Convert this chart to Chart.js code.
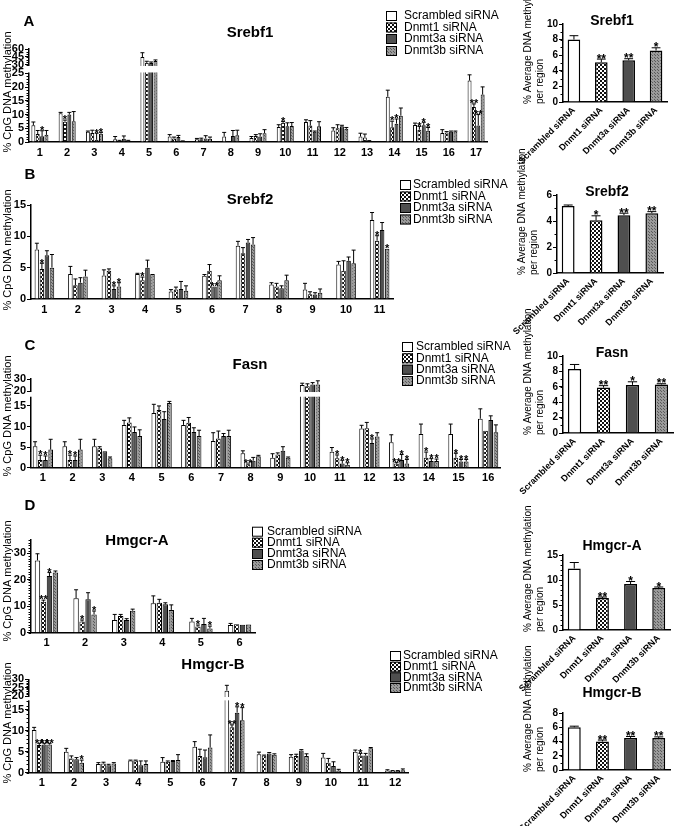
<!DOCTYPE html>
<html><head><meta charset="utf-8">
<script src="https://cdn.jsdelivr.net/npm/chart.js@4"></script>
<style>
html,body{margin:0;padding:0;background:#fff;}
#wrap{position:relative;width:685px;height:826px;overflow:hidden;background:#fff}
#wrap canvas{position:absolute;left:0;top:0}
</style></head><body><div id="wrap"></div>
<script>
// ---------------- DATA ----------------
const seriesNames = ['Scrambled siRNA','Dnmt1 siRNA','Dnmt3a siRNA','Dnmt3b siRNA'];

// Srebf1 (A)
const srebf1Regions = ['1','2','3','4','5','6','7','8','9','10','11','12','13','14','15','16','17'];
const srebf1Scr    = [6.1,10.5,3.7,1.0,45,2.0,1.0,2.0,1.5,5.5,7.3,4.2,2.0,16.5,6.2,3.3,22.4];
const srebf1ScrErr = [1.2,0.3,0.3,1.0,8,0.7,0.3,1.5,0.5,0.8,0.8,1.0,1.2,2.4,0.7,1.2,2.1];
const srebf1D1     = [2.9,7.4,3.3,0.3,34,1.3,1.0,0.0,2.2,7.0,6.0,5.0,1.6,5.4,4.5,3.5,12.8];
const srebf1D1Err  = [1.3,0.6,1.0,0.3,3,0.5,0.4,0,0.5,0.5,1.8,1.3,1.3,2.2,1.2,0.3,1.1];
const srebf1D1Sig  = ['','*','','','','','','','','*','','','','*','*','','**'];
const srebf1D3a    = [2.1,10.0,0.8,1.2,33.7,1.8,1.3,2.2,2.0,5.7,3.7,5.7,0.3,6.7,6.1,3.7,6.0];
const srebf1D3aErr = [2.0,0.8,2.4,1.0,2,0.6,1.0,2.0,1.0,1.3,0.3,0.4,0.2,1.7,1.1,0.3,4.0];
const srebf1D3aSig = ['*','','*','','','','','','','','','','','*','*','','**'];
const srebf1D3b    = [2.6,7.6,3.0,0.4,37.5,0.3,1.2,2.5,3.2,5.8,5.7,4.8,0.0,9.6,4.1,3.8,17.3];
const srebf1D3bErr = [1.6,3.5,0.5,0.2,2,0.1,0.6,1.8,1.3,1.3,1.7,0.5,0,2.8,1.2,0.2,2.8];
const srebf1D3bSig = ['','','*','','','','','','','','','','','','*','',''];
const srebf1Ticks  = [0,5,10,15,20,25,30,45,60];

// Srebf2 (B)
const srebf2Regions = ['1','2','3','4','5','6','7','8','9','10','11'];
const srebf2Scr    = [7.9,4.0,3.75,4.0,1.2,3.7,8.5,2.3,1.5,5.5,12.6];
const srebf2ScrErr = [1.0,1.2,0.9,0.1,0.3,0.2,0.7,0.3,1.0,0.5,1.2];
const srebf2D1     = [4.8,2.2,4.5,3.0,1.5,4.5,7.3,2.0,0.75,4.5,9.3];
const srebf2D1Err  = [0.9,1.0,0.3,0.5,0.4,1.0,0.9,0.5,0.4,1.6,0.8];
const srebf2D1Sig  = ['*','','','*','','','','','','','*'];
const srebf2D3a    = [7.0,2.6,1.6,5.0,1.6,2.0,9.0,1.7,0.7,6.1,11.0];
const srebf2D3aErr = [0.7,0.8,0.5,1.2,1.2,0.0,0.5,0.4,0.3,0.6,1.2];
const srebf2D3aSig = ['','','*','','','**','','','','',''];
const srebf2D3b    = [5.0,3.6,2.0,4.0,1.3,3.0,8.7,3.0,1.0,5.7,8.0];
const srebf2D3bErr = [2.1,1.0,0.6,0.0,0.8,0.7,1.1,0.8,0.6,2.1,0.0];
const srebf2D3bSig = ['','','*','','','','','','','','*'];
const srebf2Ticks  = [0,5,10,15];

// Fasn (C)
const fasnRegions = ['1','2','3','4','5','6','7','8','9','10','11','12','13','14','15','16'];
const fasnScr    = [5.2,5.2,5.2,10.4,13.3,10.4,6.5,3.5,2.4,25,3.9,9.5,6.2,8.2,8.2,11.9];
const fasnScrErr = [1.1,1.1,1.7,1.1,2.1,1.1,2.0,0.6,1.0,1.5,1.0,0.8,1.8,2.4,2.4,2.4];
const fasnD1     = [1.85,1.85,4.7,11.0,14.0,10.9,7.1,0.8,3.2,24,2.3,9.6,1.0,2.4,2.4,9.0];
const fasnD1Err  = [1.2,1.2,0.4,1.1,1.0,1.3,1.8,0.1,0.4,2,0.8,1.4,0.3,1.4,1.1,0];
const fasnD1Sig  = ['*','*','','','','','','**','','','*','','**','*','*',''];
const fasnD3a    = [1.85,1.85,4.0,8.7,11.8,8.7,7.7,1.7,4.1,25.5,1.0,6.0,1.9,1.6,1.5,11.6];
const fasnD3aErr = [1.0,1.0,0,1.2,1.8,1.0,0.6,0.8,1.0,1.5,0.8,1.0,1.3,0.6,0.5,1.0];
const fasnD3aSig = ['*','*','','','','','','','','','*','*','*','*','*',''];
const fasnD3b    = [4.4,4.4,2.3,7.7,15.7,7.7,7.7,2.8,2.4,25.5,0.7,7.6,1.0,1.6,1.5,8.6];
const fasnD3bErr = [2.5,2.5,0.3,1.5,0.4,1.4,1.4,0.2,0.2,3,0.5,0.9,1.0,0.5,0.5,1.8];
const fasnD3bSig = ['','','','','','','','','','','*','','*','*','*',''];
const fasnTicks  = [0,5,10,15,20,30];

// Hmgcr-A (D)
const hmgcrARegions = ['1','2','3','4','5','6'];
const hmgcrAScr    = [27.3,13.0,4.8,11.1,4.2,2.9];
const hmgcrAScrErr = [2.5,3.2,2.1,2.8,1.2,0.6];
const hmgcrAD1     = [11.7,4.2,6.3,11.3,2.3,3.2];
const hmgcrAD1Err  = [0.6,0.6,0.6,1.3,0.6,0];
const hmgcrAD1Sig  = ['**','*','','','*',''];
const hmgcrAD3a    = [21.4,12.6,4.8,10.7,3.3,3.0];
const hmgcrAD3aErr = [1.3,2.5,0.5,0.6,2.1,0];
const hmgcrAD3aSig = ['*','','','','',''];
const hmgcrAD3b    = [22.7,6.9,8.3,8.6,1.6,3.1];
const hmgcrAD3bErr = [0.6,1.3,0.6,1.9,0.9,0];
const hmgcrAD3bSig = ['','*','','','*',''];
const hmgcrATicks  = [0,10,20,30];

// Hmgcr-B (D)
const hmgcrBRegions = ['1','2','3','4','5','6','7','8','9','10','11','12'];
const hmgcrBScr    = [10.2,5.0,2.1,2.9,2.6,6.2,23.2,4.4,3.8,3.6,5.0,0.5];
const hmgcrBScrErr = [0.6,0.8,0.3,0.1,1.0,1.2,3.2,0.5,0.5,1.0,0.4,0.2];
const hmgcrBD1     = [6.6,3.4,2.2,2.9,2.6,4.0,10.8,4.1,4.0,2.4,4.1,0.4];
const hmgcrBD1Err  = [0.4,0.6,0.3,0.1,0.2,1.6,0.6,0.1,0.4,1.0,0.5,0.1];
const hmgcrBD1Sig  = ['**','','','','','','**','','','','*',''];
const hmgcrBD3a    = [6.7,3.2,1.8,1.8,2.8,3.7,14.3,4.6,5.3,1.6,4.1,0.4];
const hmgcrBD3aErr = [0.3,0.4,0.2,1.0,0.1,1.7,1.4,0.2,0.2,1.0,0.5,0.1];
const hmgcrBD3aSig = ['**','','','','','','*','','','','',''];
const hmgcrBD3b    = [6.7,2.4,2.2,2.1,3.0,6.0,12.5,4.3,4.0,0.5,5.8,0.6];
const hmgcrBD3bErr = [0.3,0.6,0.2,0.7,1.3,3.0,3.0,0.2,0.5,0.3,0.2,0.3];
const hmgcrBD3bSig = ['**','*','','','','','*','','','','',''];
const hmgcrBTicks  = [0,5,10,15,20,25,30];

// Averages per region
const avgGroups = ['1','2','3','4'];
const srebf1Avg = [8.0,5.1,5.35,6.6];   const srebf1AvgErr = [0.5,0.4,0.2,0.35]; const srebf1AvgSig = ['','**','**','*'];
const srebf2Avg = [5.15,4.05,4.45,4.6]; const srebf2AvgErr = [0.08,0.35,0.15,0.12]; const srebf2AvgSig = ['','*','**','**'];
const fasnAvg   = [8.3,5.9,6.25,6.3];   const fasnAvgErr = [0.6,0.25,0.4,0.1];   const fasnAvgSig = ['','**','*','**'];
const hmgcrAAvg = [12.3,6.4,9.2,8.4];   const hmgcrAAvgErr = [1.2,0.2,0.5,0.2];  const hmgcrAAvgSig = ['','**','*','*'];
const hmgcrBAvg = [6.0,4.0,4.5,4.5];    const hmgcrBAvgErr = [0.15,0.2,0.2,0.15]; const hmgcrBAvgSig = ['','**','**','**'];
const avgTicks10 = [0,2,4,6,8,10];
const avgTicks6  = [0,2,4,6];
const avgTicks15 = [0,5,10,15];
const avgTicks8  = [0,2,4,6,8];

// ---------------- RENDERING ----------------
const W = 685, H = 826, YW = 22;
const FONT = "'Liberation Sans', Arial, Helvetica, sans-serif";
Chart.defaults.font.family = FONT;
Chart.defaults.color = '#000';
const PANEL = {};

class BrokenScale extends Chart.LinearScale {
  buildTicks() {
    const c = PANEL[this.chart.canvas.id];
    return c.ticks.map(v => ({value: v}));
  }
  getPixelForValue(value) {
    if (value === null || value === undefined || isNaN(value)) return NaN;
    const c = PANEL[this.chart.canvas.id];
    const b = c && c.brk;
    let d;
    if (!b) d = (value - this.min) / (this.max - this.min);
    else if (value <= b.low) d = value / b.low * b.fLow;
    else if (value >= b.high) d = b.fLow + b.fGap + (value - b.high) / (this.max - b.high) * (1 - b.fLow - b.fGap);
    else d = b.fLow + (value - b.low) / (b.high - b.low) * b.fGap;
    return this.bottom - d * (this.bottom - this.top);
  }
}
BrokenScale.id = 'broken';
BrokenScale.defaults = {};
Chart.register(BrokenScale);

function makePatterns(ctx) {
  function tile(w, h, draw) {
    const c = document.createElement('canvas'); c.width = w; c.height = h;
    const t = c.getContext('2d'); draw(t); return ctx.createPattern(c, 'repeat');
  }
  const checker = tile(4, 4, t => { t.fillStyle = '#fff'; t.fillRect(0,0,4,4); t.fillStyle = '#111'; t.fillRect(0,0,2,2); t.fillRect(2,2,2,2); });
  const dotted = tile(3, 3, t => { t.fillStyle = '#9a9a9a'; t.fillRect(0,0,3,3); t.fillStyle = '#5a5a5a'; t.fillRect(0,0,1,1); t.fillRect(1,1,1,1);});
  return ['#ffffff', checker, '#4f4f4f', dotted];
}

const extras = {
  id: 'extras',
  afterDatasetsDraw(chart) {
    const c = PANEL[chart.canvas.id];
    const ctx = chart.ctx, ys = chart.scales.y, ca = chart.chartArea;
    ctx.save();
    // error bars + stars
    chart.data.datasets.forEach((ds, di) => {
      const meta = chart.getDatasetMeta(di);
      meta.data.forEach((bar, i) => {
        const v = ds.data[i], e = ds.errs[i];
        const yTop = ys.getPixelForValue(v + e);
        const yBar = ys.getPixelForValue(v);
        ctx.strokeStyle = '#000'; ctx.lineWidth = 1;
        if (e > 0) {
          const cap = Math.max(2, bar.width * 0.35);
          ctx.beginPath();
          ctx.moveTo(bar.x, yBar); ctx.lineTo(bar.x, yTop);
          ctx.moveTo(bar.x - cap, yTop); ctx.lineTo(bar.x + cap, yTop);
          ctx.stroke();
        }
        const s = ds.stars[i];
        if (s) {
          ctx.fillStyle = '#000';
          ctx.font = 'bold ' + c.starSize + 'px ' + FONT;
          ctx.textAlign = 'center'; ctx.textBaseline = 'alphabetic';
          ctx.fillText(s, bar.x, yTop + c.starSize * 0.3);
        }
      });
    });
    // axis break band
    if (c.brk) {
      const yl = ys.getPixelForValue(c.brk.low), yh = ys.getPixelForValue(c.brk.high);
      ctx.fillStyle = '#fff';
      ctx.fillRect(ca.left - 3, yh + 1, ca.right - ca.left + 6, (yl - yh) - 2);
    }
    // minor ticks
    if (c.minor) {
      ctx.strokeStyle = '#000'; ctx.lineWidth = 1;
      ctx.beginPath();
      c.minor.forEach(m => {
        for (let v = m[0]; v <= m[1] + 1e-9; v += m[2]) {
          const py = Math.round(ys.getPixelForValue(v)) + 0.5;
          ctx.moveTo(ca.left - 2.5, py); ctx.lineTo(ca.left, py);
        }
      });
      ctx.stroke();
    }
    // title
    ctx.fillStyle = '#000';
    if (c.title) {
      ctx.font = 'bold ' + c.title.size + 'px ' + FONT;
      ctx.textAlign = 'center'; ctx.textBaseline = 'middle';
      ctx.fillText(c.title.text, c.title.x, c.title.y);
    }
    if (c.letter) {
      ctx.font = 'bold 15px ' + FONT;
      ctx.textAlign = 'center'; ctx.textBaseline = 'middle';
      ctx.fillText(c.letter.text, c.letter.x, c.letter.y);
    }
    // y title
    if (c.yTitle) {
      const t = c.yTitle;
      ctx.save();
      ctx.translate(t.x, t.y); ctx.rotate(-Math.PI / 2);
      ctx.font = t.size + 'px ' + FONT;
      ctx.textAlign = t.align || 'center'; ctx.textBaseline = 'middle';
      t.lines.forEach((ln, k) => ctx.fillText(ln, 0, k * t.lh));
      ctx.restore();
    }
    // legend
    if (c.legend) {
      const L = c.legend;
      chart.data.datasets.forEach((ds, k) => {
        const yy = L.rows[k];
        ctx.fillStyle = ds.backgroundColor;
        ctx.fillRect(L.boxX, yy - 5, 11, 10);
        ctx.strokeStyle = '#000'; ctx.lineWidth = 1;
        ctx.strokeRect(L.boxX + 0.5, yy - 5 + 0.5, 10, 9);
        ctx.fillStyle = '#000';
        ctx.font = '12px ' + FONT;
        ctx.textAlign = 'left'; ctx.textBaseline = 'middle';
        ctx.fillText(ds.label, L.textX, yy);
      });
    }
    ctx.restore();
  }
};

function addCanvas(id) {
  const cv = document.createElement('canvas');
  cv.id = id; cv.width = W; cv.height = H;
  document.getElementById('wrap').appendChild(cv);
  return cv.getContext('2d');
}

function axisOpts(p, tickSize, rot, names) {
  const n = p.labels.length;
  return {
    x: {type: 'linear', min: 0.6, max: n + 0.4, offset: false,
        afterBuildTicks: s => { s.ticks = p.labels.map((l, i) => ({value: i + 1})); },
        grid: {display: false, drawTicks: false},
        border: {display: true, color: '#000', width: 1.5},
        ticks: {autoSkip: false, minRotation: rot, maxRotation: rot, padding: rot ? 3 : 4, color: '#000',
                font: {size: p.xFont || 11, weight: 'bold'},
                callback: v => names[Math.round(v) - 1]},
        afterFit: s => { s.height = p.xh; }},
    y: {type: 'broken', min: 0, max: p.max,
        grid: {drawOnChartArea: false, drawTicks: true, tickLength: 4, color: '#000', lineWidth: 1},
        border: {display: true, color: '#000', width: 1.5},
        ticks: {autoSkip: false, padding: 1, color: '#000', font: {size: tickSize, weight: 'bold'},
                callback: v => String(v)},
        afterFit: s => { s.width = YW; }}
  };
}

function bigPanel(id, p) {
  p.xh = 18;
  PANEL[id] = p;
  const ctx = addCanvas(id);
  const pats = makePatterns(ctx);
  const datasets = p.series.map((s, k) => ({
    label: seriesNames[k], data: s[0], errs: s[1], stars: s[2] || p.labels.map(() => ''),
    backgroundColor: pats[k], borderColor: '#000', borderWidth: 1
  }));
  new Chart(ctx, {
    type: 'bar',
    data: {labels: p.labels, datasets},
    options: {
      responsive: false, animation: false, events: [],
      layout: {padding: {left: p.ax[0] - YW, right: W - p.ax[1], top: p.ax[2], bottom: H - p.ax[3] - p.xh}},
      plugins: {legend: {display: false}, title: {display: false}, tooltip: {enabled: false}},
      datasets: {bar: {categoryPercentage: p.cat, barPercentage: 0.9}},
      scales: axisOpts(p, 11, 0, p.labels)
    },
    plugins: [extras]
  });
}

function avgPanel(id, p) {
  p.xh = 90; p.labels = avgGroups; p.xFont = 9;
  PANEL[id] = p;
  const ctx = addCanvas(id);
  const pats = makePatterns(ctx);
  new Chart(ctx, {
    type: 'bar',
    data: {labels: avgGroups, datasets: [{label: 'avg', data: p.v, errs: p.e, stars: p.s,
      backgroundColor: pats, borderColor: '#000', borderWidth: 1.5}]},
    options: {
      responsive: false, animation: false, events: [],
      layout: {padding: {left: p.ax[0] - YW, right: W - p.ax[1], top: p.ax[2], bottom: H - p.ax[3] - p.xh}},
      plugins: {legend: {display: false}, title: {display: false}, tooltip: {enabled: false}},
      datasets: {bar: {categoryPercentage: 1, barPercentage: 0.46}},
      scales: axisOpts(p, 10, 45, seriesNames)
    },
    plugins: [extras]
  });
}

const avgYTitle = (x, y) => ({lines: ['% Average DNA methylation', 'per region'], x, y, size: 10, lh: 12, align: 'left'});

bigPanel('pA', {
  labels: srebf1Regions, ticks: srebf1Ticks, max: 60, cat: 0.64, starSize: 11,
  brk: {low: 25, high: 30, fLow: 0.737, fGap: 0.091},
  minor: [[0, 25, 1], [30, 60, 5]],
  ax: [29, 487, 49, 142],
  series: [[srebf1Scr, srebf1ScrErr], [srebf1D1, srebf1D1Err, srebf1D1Sig], [srebf1D3a, srebf1D3aErr, srebf1D3aSig], [srebf1D3b, srebf1D3bErr, srebf1D3bSig]],
  title: {text: 'Srebf1', x: 250, y: 33, size: 15},
  letter: {text: 'A', x: 29, y: 22},
  yTitle: {lines: ['% CpG DNA methylation'], x: 8, y: 92, size: 11, lh: 12},
  legend: {boxX: 386, textX: 404, rows: [16, 27.5, 39, 51]}
});

bigPanel('pB', {
  labels: srebf2Regions, ticks: srebf2Ticks, max: 15, cat: 0.6, starSize: 11,
  ax: [31, 393, 205, 299],
  series: [[srebf2Scr, srebf2ScrErr], [srebf2D1, srebf2D1Err, srebf2D1Sig], [srebf2D3a, srebf2D3aErr, srebf2D3aSig], [srebf2D3b, srebf2D3bErr, srebf2D3bSig]],
  title: {text: 'Srebf2', x: 250, y: 200, size: 15},
  letter: {text: 'B', x: 30, y: 175},
  yTitle: {lines: ['% CpG DNA methylation'], x: 8, y: 250, size: 11, lh: 12},
  legend: {boxX: 400, textX: 413, rows: [185, 196.5, 208, 219.5]}
});

bigPanel('pC', {
  labels: fasnRegions, ticks: fasnTicks, max: 30, cat: 0.7, starSize: 11,
  brk: {low: 17, high: 20, fLow: 0.789, fGap: 0.0755},
  ax: [31, 500, 379, 467.7],
  series: [[fasnScr, fasnScrErr], [fasnD1, fasnD1Err, fasnD1Sig], [fasnD3a, fasnD3aErr, fasnD3aSig], [fasnD3b, fasnD3bErr, fasnD3bSig]],
  title: {text: 'Fasn', x: 250, y: 365, size: 15},
  letter: {text: 'C', x: 30, y: 346},
  yTitle: {lines: ['% CpG DNA methylation'], x: 8, y: 416, size: 11, lh: 12},
  legend: {boxX: 402, textX: 416, rows: [347, 358.3, 369.7, 381]}
});

bigPanel('pDA', {
  labels: hmgcrARegions, ticks: hmgcrATicks, max: 35, cat: 0.62, starSize: 11,
  minor: [[0, 35, 1]],
  ax: [31, 255, 540, 632.7],
  series: [[hmgcrAScr, hmgcrAScrErr], [hmgcrAD1, hmgcrAD1Err, hmgcrAD1Sig], [hmgcrAD3a, hmgcrAD3aErr, hmgcrAD3aSig], [hmgcrAD3b, hmgcrAD3bErr, hmgcrAD3bSig]],
  title: {text: 'Hmgcr-A', x: 137, y: 541, size: 15},
  letter: {text: 'D', x: 30, y: 506},
  yTitle: {lines: ['% CpG DNA methylation'], x: 8, y: 581, size: 11, lh: 12},
  legend: {boxX: 252, textX: 267, rows: [531.7, 542.7, 554, 565]}
});

bigPanel('pDB', {
  labels: hmgcrBRegions, ticks: hmgcrBTicks, max: 30, cat: 0.64, starSize: 11,
  brk: {low: 17, high: 20, fLow: 0.764, fGap: 0.057},
  minor: [[0, 17, 1], [20, 30, 1]],
  ax: [29, 408, 679.3, 772.7],
  series: [[hmgcrBScr, hmgcrBScrErr], [hmgcrBD1, hmgcrBD1Err, hmgcrBD1Sig], [hmgcrBD3a, hmgcrBD3aErr, hmgcrBD3aSig], [hmgcrBD3b, hmgcrBD3bErr, hmgcrBD3bSig]],
  title: {text: 'Hmgcr-B', x: 213, y: 665, size: 15},
  yTitle: {lines: ['% CpG DNA methylation'], x: 8, y: 723, size: 11, lh: 12},
  legend: {boxX: 390, textX: 403, rows: [656, 666.7, 677.3, 688]}
});

avgPanel('aA', {v: srebf1Avg, e: srebf1AvgErr, s: srebf1AvgSig, ticks: avgTicks10, max: 10, starSize: 12,
  minor: [[0, 10, 1]],
  ax: [563, 667, 24, 102], title: {text: 'Srebf1', x: 612, y: 21, size: 14}, yTitle: avgYTitle(528, 104)});
avgPanel('aB', {v: srebf2Avg, e: srebf2AvgErr, s: srebf2AvgSig, ticks: avgTicks6, max: 6, starSize: 12,
  minor: [[0, 6, 1]],
  ax: [557, 663, 195, 273], title: {text: 'Srebf2', x: 607, y: 192, size: 14}, yTitle: avgYTitle(522, 275)});
avgPanel('aC', {v: fasnAvg, e: fasnAvgErr, s: fasnAvgSig, ticks: avgTicks10, max: 10, starSize: 12,
  minor: [[0, 10, 1]],
  ax: [563, 673, 356, 433], title: {text: 'Fasn', x: 612, y: 353, size: 14}, yTitle: avgYTitle(528, 435)});
avgPanel('aDA', {v: hmgcrAAvg, e: hmgcrAAvgErr, s: hmgcrAAvgSig, ticks: avgTicks15, max: 15, starSize: 12,
  minor: [[0, 15, 1]],
  ax: [563, 670, 555, 630], title: {text: 'Hmgcr-A', x: 612, y: 546, size: 14}, yTitle: avgYTitle(528, 632)});
avgPanel('aDB', {v: hmgcrBAvg, e: hmgcrBAvgErr, s: hmgcrBAvgSig, ticks: avgTicks8, max: 8, starSize: 12,
  minor: [[0, 8, 1]],
  ax: [563, 670, 713, 770], title: {text: 'Hmgcr-B', x: 612, y: 693, size: 14}, yTitle: avgYTitle(528, 772)});
</script></body></html>
